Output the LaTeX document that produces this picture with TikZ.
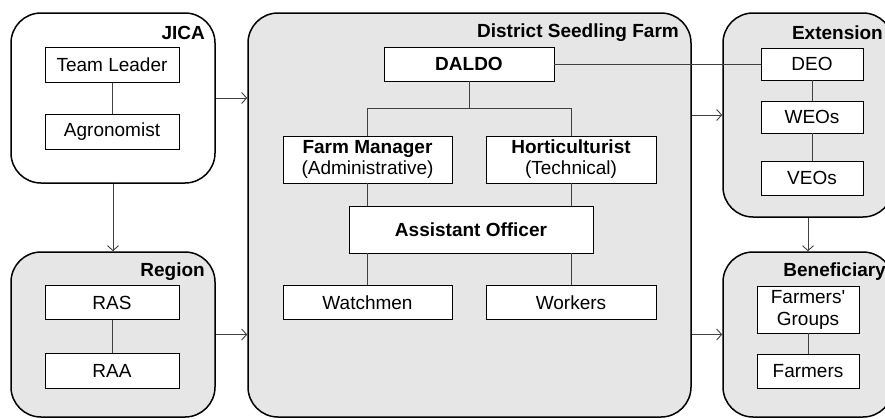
\documentclass[tikz,border=0pt]{standalone}
\usepackage{fontspec}
\setmainfont{Liberation Sans}
\usetikzlibrary{arrows.meta}
\definecolor{boxgrey}{HTML}{E6E6E6}
\begin{document}
\begin{tikzpicture}[x=1pt,y=-1pt,
 outer/.style={draw, line width=1.5pt, rounded corners=30pt, fill=boxgrey, inner sep=0pt},
 innerbox/.style={draw, line width=0.9pt, fill=white, inner sep=0pt, align=center, font=\fontsize{19}{22}\selectfont},
 grp/.style={font=\bfseries\fontsize{19}{22}\selectfont, anchor=east, inner sep=0pt},
 link/.style={line width=0.9pt, draw=black!75},
 arr/.style={link, -{Straight Barb[length=5pt,width=11pt]}}]
\useasboundingbox (0,0) rectangle (885,418);
\clip (0,0) rectangle (885,418);
% outer groups
\node[outer, fill=white, minimum width=204pt, minimum height=170pt] (jica) at (113,98) {};
\node[outer, minimum width=204pt, minimum height=165pt] (region) at (113,334.5) {};
\node[outer, minimum width=443pt, minimum height=404pt] (dsf) at (469.5,215) {};
\node[outer, minimum width=170pt, minimum height=204pt] (ext) at (808,115) {};
\node[outer, minimum width=170pt, minimum height=165pt] (ben) at (808,334.5) {};
% group labels
\node[grp] (ljica) at (205,33) {JICA};
\node[grp] (lregion) at (205,272) {Region};
\node[grp] (ldsf) at (679,33) {District Seedling Farm};
\node[grp] (lext) at (883,33) {Extension};
\node[grp] (lben) at (886,272) {Beneficiary};
% inner boxes
\node[innerbox, minimum width=134pt, minimum height=35pt] (tl) at (112,65) {Team Leader};
\node[innerbox, minimum width=134pt, minimum height=35pt] (agro) at (112,132) {Agronomist};
\node[innerbox, minimum width=134pt, minimum height=34pt] (ras) at (112,302.5) {RAS};
\node[innerbox, minimum width=134pt, minimum height=35pt] (raa) at (112,370.5) {RAA};
\node[innerbox, minimum width=170pt, minimum height=34pt, font=\bfseries\fontsize{19}{22}\selectfont] (daldo) at (469,64) {DALDO};
\node[innerbox, minimum width=169pt, minimum height=47pt, font=\fontsize{19}{21}\selectfont] (fm) at (367.5,159.5) {\textbf{Farm Manager}\\(Administrative)};
\node[innerbox, minimum width=170pt, minimum height=47pt, font=\fontsize{19}{21}\selectfont] (hort) at (571,159.5) {\textbf{Horticulturist}\\(Technical)};
\node[innerbox, minimum width=244pt, minimum height=47pt, font=\bfseries\fontsize{19}{22}\selectfont] (ao) at (471,229.5) {Assistant Officer};
\node[innerbox, minimum width=169pt, minimum height=34pt] (watch) at (367.5,302.5) {Watchmen};
\node[innerbox, minimum width=170pt, minimum height=34pt] (work) at (571,302.5) {Workers};
\node[innerbox, minimum width=102pt, minimum height=32pt] (deo) at (812,64) {DEO};
\node[innerbox, minimum width=102pt, minimum height=32pt] (weo) at (812,117) {WEOs};
\node[innerbox, minimum width=102pt, minimum height=34pt] (veo) at (812,178) {VEOs};
\node[innerbox, minimum width=102pt, minimum height=47pt, font=\fontsize{19}{22}\selectfont] (fg) at (808,309.5) {Farmers\textquotesingle\\Groups};
\node[innerbox, minimum width=102pt, minimum height=34pt] (farmers) at (808,371) {Farmers};
% arrows between groups
\draw[arr] (jica.east) -- (jica.east -| dsf.west);
\draw[arr] (region.east) -- (region.east -| dsf.west);
\draw[arr] (jica.south) -- (region.north);
\draw[arr] (ext.west -| dsf.east) -- (ext.west);
\draw[arr] (ben.west -| dsf.east) -- (ben.west);
\draw[arr] (ext.south) -- (ben.north);
% inner links
\coordinate (bar) at (0,108);
\draw[link] (tl.south) -- (agro.north);
\draw[link] (ras.south) -- (raa.north);
\draw[link] (deo.south) -- (weo.north);
\draw[link] (weo.south) -- (veo.north);
\draw[link] (fg.south) -- (farmers.north);
\draw[link] (daldo.east) -- (deo.west);
\draw[link] (daldo.south) -- (daldo.south |- bar);
\draw[link] (fm.north |- bar) -- (hort.north |- bar);
\draw[link] (fm.north |- bar) -- (fm.north);
\draw[link] (hort.north |- bar) -- (hort.north);
\draw[link] (fm.south) -- (fm.south |- ao.north);
\draw[link] (hort.south) -- (hort.south |- ao.north);
\draw[link] (watch.north |- ao.south) -- (watch.north);
\draw[link] (work.north |- ao.south) -- (work.north);
\end{tikzpicture}
\end{document}
